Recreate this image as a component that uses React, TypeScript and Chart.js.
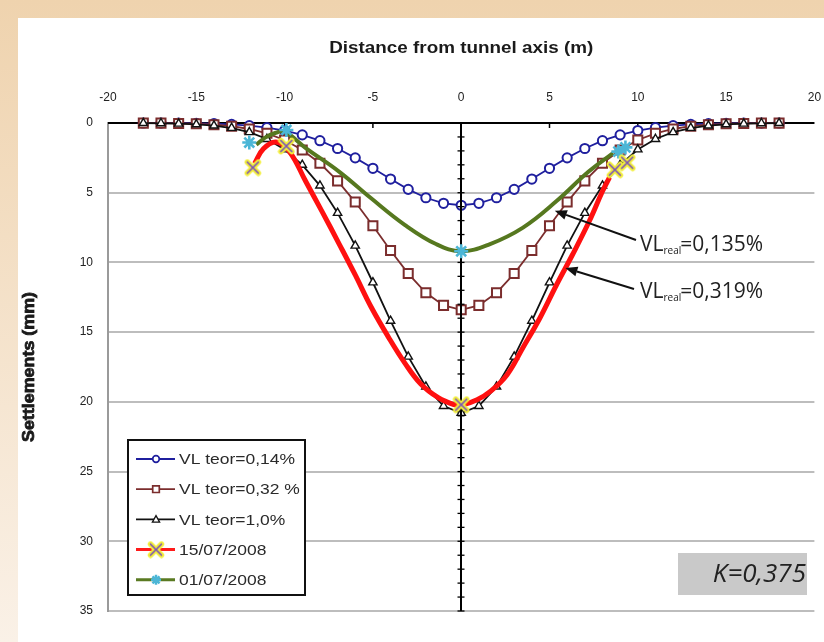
import React, { useEffect, useRef } from 'react';
import { Chart, registerables } from 'chart.js';

Chart.register(...registerables);

// ---------------- data ----------------
const distance = [-18, -17, -16, -15, -14, -13, -12, -11, -10, -9, -8, -7, -6, -5, -4, -3, -2, -1, 0, 1, 2, 3, 4, 5, 6, 7, 8, 9, 10, 11, 12, 13, 14, 15, 16, 17, 18];
const vlTeor014 = [0.0, 0.01, 0.01, 0.03, 0.05, 0.1, 0.19, 0.33, 0.54, 0.85, 1.27, 1.83, 2.5, 3.25, 4.02, 4.76, 5.36, 5.76, 5.9, 5.76, 5.36, 4.76, 4.02, 3.25, 2.5, 1.83, 1.27, 0.85, 0.54, 0.33, 0.19, 0.1, 0.05, 0.03, 0.01, 0.01, 0.0];
const vlTeor032 = [0.01, 0.01, 0.03, 0.06, 0.12, 0.23, 0.43, 0.74, 1.22, 1.93, 2.89, 4.15, 5.67, 7.37, 9.14, 10.8, 12.18, 13.08, 13.4, 13.08, 12.18, 10.8, 9.14, 7.37, 5.67, 4.15, 2.89, 1.93, 1.22, 0.74, 0.43, 0.23, 0.12, 0.06, 0.03, 0.01, 0.01];
const vlTeor10 = [0.01, 0.02, 0.05, 0.1, 0.19, 0.36, 0.66, 1.15, 1.9, 3.0, 4.49, 6.45, 8.8, 11.44, 14.19, 16.76, 18.91, 20.3, 20.8, 20.3, 18.91, 16.76, 14.19, 11.44, 8.8, 6.45, 4.49, 3.0, 1.9, 1.15, 0.66, 0.36, 0.19, 0.1, 0.05, 0.02, 0.01];

const curve150708X = [-11.7, -11.2, -10.5, -9.75, -8.8, -7.9, -6.9, -6.0, -5.1, -4.1, -3.2, -2.3, -1.3, -0.4, 0, 0.9, 1.65, 2.6, 3.5, 4.45, 5.4, 6.3, 7.25, 8.0, 8.4];
const curve150708Y = [2.9, 1.85, 1.36, 2.0, 4.2, 6.3, 8.7, 10.9, 13.2, 15.4, 17.2, 18.7, 19.7, 20.2, 20.25, 19.85, 19.25, 18.05, 16.1, 14.0, 11.6, 9.45, 7.05, 4.9, 3.9];
const meas150708X = [-11.8, -9.9, 0, 8.7, 9.4];
const meas150708Y = [3.2, 1.65, 20.2, 3.35, 2.85];

const curve010708X = [-11.6, -11.1, -10.5, -10.0, -8.8, -6.9, -5.1, -3.2, -1.4, 0, 1.6, 3.5, 5.4, 7.2, 8.6];
const curve010708Y = [1.55, 1.05, 0.7, 0.62, 1.8, 3.5, 5.4, 7.3, 8.7, 9.2, 8.7, 7.5, 5.6, 3.5, 2.15];
const meas010708X = [-12.0, -9.9, 0, 8.9, 9.3];
const meas010708Y = [1.4, 0.5, 9.2, 2.05, 1.75];

const xTickValues = [-20, -15, -10, -5, 0, 5, 10, 15, 20];
const xTickLabels = ['-20', '-15', '-10', '-5', '0', '5', '10', '15', '20'];
const yTickValues = [0, 5, 10, 15, 20, 25, 30, 35];
const yTickLabels = ['0', '5', '10', '15', '20', '25', '30', '35'];

const seriesLabels = ['VL teor=0,14%', 'VL teor=0,32 %', 'VL teor=1,0%', '15/07/2008', '01/07/2008'];
const xAxisTitle = 'Distance from tunnel axis (m)';
const yAxisTitle = 'Settlements (mm)';
const kLabel = 'K=0,375';
const vlRealValues = ['=0,135%', '=0,319%'];

// ---------------- helpers ----------------
const toXY = (xs: number[], ys: number[]) => xs.map((x, i) => ({ x, y: ys[i] }));

function makeXMarker(): HTMLCanvasElement {
  const c = document.createElement('canvas');
  c.width = 18;
  c.height = 18;
  const g = c.getContext('2d') as CanvasRenderingContext2D;
  const path = () => {
    g.beginPath();
    g.moveTo(3.5, 3.5);
    g.lineTo(14.5, 14.5);
    g.moveTo(14.5, 3.5);
    g.lineTo(3.5, 14.5);
  };
  g.lineCap = 'round';
  g.strokeStyle = '#f3ef3c';
  g.lineWidth = 5.5;
  path();
  g.stroke();
  g.strokeStyle = '#7b55b5';
  g.lineWidth = 1.7;
  path();
  g.stroke();
  return c;
}

function drawMarker(ctx: CanvasRenderingContext2D, kind: string, x: number, y: number, r: number, color: string, lw: number, img?: HTMLCanvasElement) {
  ctx.save();
  ctx.lineWidth = lw;
  ctx.strokeStyle = color;
  ctx.fillStyle = '#fff';
  ctx.beginPath();
  if (kind === 'circle') {
    ctx.arc(x, y, r, 0, Math.PI * 2);
    ctx.fill();
    ctx.stroke();
  } else if (kind === 'rect') {
    ctx.rect(x - r, y - r, 2 * r, 2 * r);
    ctx.fill();
    ctx.stroke();
  } else if (kind === 'triangle') {
    ctx.moveTo(x, y - r);
    ctx.lineTo(x + r * 0.95, y + r * 0.7);
    ctx.lineTo(x - r * 0.95, y + r * 0.7);
    ctx.closePath();
    ctx.fill();
    ctx.stroke();
  } else if (kind === 'star') {
    for (let k = 0; k < 4; k++) {
      const a = (k * Math.PI) / 4;
      ctx.moveTo(x - Math.cos(a) * r, y - Math.sin(a) * r);
      ctx.lineTo(x + Math.cos(a) * r, y + Math.sin(a) * r);
    }
    ctx.stroke();
  } else if (kind === 'image' && img) {
    ctx.drawImage(img, x - img.width / 2, y - img.height / 2);
  }
  ctx.restore();
}

function stretchText(ctx: CanvasRenderingContext2D, text: string, x: number, y: number, font: string, align: CanvasTextAlign, target?: number) {
  ctx.save();
  ctx.font = font;
  const w = ctx.measureText(text).width;
  const s = target ? target / w : 1;
  ctx.translate(x, y);
  ctx.scale(s, 1);
  ctx.textAlign = align;
  ctx.textBaseline = 'middle';
  ctx.fillText(text, 0, 0);
  ctx.restore();
}

function arrow(ctx: CanvasRenderingContext2D, x0: number, y0: number, x1: number, y1: number) {
  const ang = Math.atan2(y1 - y0, x1 - x0);
  const hl = 12;
  const hw = 5;
  const bx = x1 - Math.cos(ang) * hl;
  const by = y1 - Math.sin(ang) * hl;
  ctx.save();
  ctx.strokeStyle = '#111';
  ctx.fillStyle = '#111';
  ctx.lineWidth = 2;
  ctx.beginPath();
  ctx.moveTo(x0, y0);
  ctx.lineTo(bx, by);
  ctx.stroke();
  ctx.beginPath();
  ctx.moveTo(x1, y1);
  ctx.lineTo(bx + Math.sin(ang) * hw, by - Math.cos(ang) * hw);
  ctx.lineTo(bx - Math.sin(ang) * hw, by + Math.cos(ang) * hw);
  ctx.closePath();
  ctx.fill();
  ctx.restore();
}

export default function App() {
  const ref = useRef<HTMLCanvasElement | null>(null);

  useEffect(() => {
    if (!ref.current) return;
    const xImg = makeXMarker();

    const legendItems = [
      { label: seriesLabels[0], color: '#1f1f9e', lw: 1.8, kind: 'circle', r: 3.3, mlw: 1.7 },
      { label: seriesLabels[1], color: '#7b2d2d', lw: 1.8, kind: 'rect', r: 3.3, mlw: 1.7 },
      { label: seriesLabels[2], color: '#111111', lw: 1.8, kind: 'triangle', r: 3.8, mlw: 1.3 },
      { label: seriesLabels[3], color: '#ff1a1a', lw: 3, kind: 'image', r: 5, mlw: 1 },
      { label: seriesLabels[4], color: '#5a7a22', lw: 3, kind: 'star', r: 5, mlw: 2.5 },
    ];

    const deco = {
      id: 'deco',
      beforeDraw(chart: any) {
        const { ctx, width, height } = chart;
        ctx.save();
        const g = ctx.createLinearGradient(0, 0, 0, height);
        g.addColorStop(0, '#efd3ae');
        g.addColorStop(1, '#faf1e7');
        ctx.fillStyle = g;
        ctx.fillRect(0, 0, width, height);
        ctx.fillStyle = '#ffffff';
        ctx.fillRect(18, 18, width - 18, height - 18);
        ctx.restore();
      },
      beforeDatasetsDraw(chart: any) {
        const { ctx, chartArea: ca, scales } = chart;
        const xs = scales.x;
        ctx.save();
        ctx.strokeStyle = '#000';
        ctx.lineWidth = 2;
        ctx.beginPath();
        ctx.moveTo(ca.left, ca.top);
        ctx.lineTo(ca.right, ca.top);
        ctx.stroke();
        ctx.lineWidth = 1.5;
        for (const v of xTickValues) {
          if (Math.abs(v) === 20) continue;
          const px = xs.getPixelForValue(v);
          ctx.beginPath();
          ctx.moveTo(px, ca.top);
          ctx.lineTo(px, ca.top + 5);
          ctx.stroke();
        }
        ctx.restore();
      },
      afterDatasetDraw(chart: any, args: any) {
        if (args.index !== 2) return;
        const { ctx, chartArea: ca, scales } = chart;
        const px = Math.round(scales.x.getPixelForValue(0));
        ctx.save();
        ctx.strokeStyle = '#000';
        ctx.lineWidth = 2;
        ctx.beginPath();
        ctx.moveTo(px, ca.top);
        ctx.lineTo(px, ca.bottom);
        ctx.stroke();
        ctx.lineWidth = 1.3;
        for (let v = 1; v <= 35; v++) {
          const py = scales.y.getPixelForValue(v);
          ctx.beginPath();
          ctx.moveTo(px - 3.5, py);
          ctx.lineTo(px + 3.5, py);
          ctx.stroke();
        }
        ctx.restore();
      },
      afterDraw(chart: any) {
        const { ctx, chartArea: ca, scales } = chart;
        const xs = scales.x;
        const ys = scales.y;
        ctx.save();
        ctx.fillStyle = '#1a1a1a';

        // axis titles
        stretchText(ctx, xAxisTitle, (ca.left + ca.right) / 2, 48, 'bold 17px "Liberation Sans", Arial, sans-serif', 'center', 264);
        ctx.save();
        ctx.translate(29, (ca.top + ca.bottom) / 2);
        ctx.rotate(-Math.PI / 2);
        ctx.strokeStyle = '#1a1a1a';
        ctx.lineWidth = 0.8;
        ctx.font = 'bold 17px "Liberation Sans", Arial, sans-serif';
        const wT = ctx.measureText(yAxisTitle).width;
        ctx.scale(150 / wT, 1);
        ctx.textAlign = 'center';
        ctx.textBaseline = 'middle';
        ctx.fillText(yAxisTitle, 0, 0);
        ctx.strokeText(yAxisTitle, 0, 0);
        ctx.restore();

        // tick labels
        ctx.fillStyle = '#222';
        xTickValues.forEach((v, i) => {
          stretchText(ctx, xTickLabels[i], xs.getPixelForValue(v), 98, '12px "Liberation Sans", Arial, sans-serif', 'center');
        });
        yTickValues.forEach((v, i) => {
          stretchText(ctx, yTickLabels[i], 93, ys.getPixelForValue(v), '12px "Liberation Sans", Arial, sans-serif', 'right');
        });

        // legend
        const lx = 128, ly = 440, lw = 177, lh = 155;
        ctx.fillStyle = '#fff';
        ctx.fillRect(lx, ly, lw, lh);
        ctx.strokeStyle = '#111';
        ctx.lineWidth = 2;
        ctx.strokeRect(lx, ly, lw, lh);
        ctx.font = '15px "Liberation Sans", Arial, sans-serif';
        const legScale = 116 / ctx.measureText(seriesLabels[0]).width;
        legendItems.forEach((it, i) => {
          const y = ly + 19 + i * 30.2;
          ctx.save();
          ctx.strokeStyle = it.color;
          ctx.lineWidth = it.lw;
          ctx.beginPath();
          ctx.moveTo(lx + 8, y);
          ctx.lineTo(lx + 47, y);
          ctx.stroke();
          ctx.restore();
          drawMarker(ctx, it.kind, lx + 28, y, it.r, it.kind === 'star' ? '#4cb6d6' : it.color, it.mlw, xImg);
          ctx.save();
          ctx.fillStyle = '#2a2a2a';
          ctx.font = '15px "Liberation Sans", Arial, sans-serif';
          ctx.translate(lx + 51, y + 1);
          ctx.scale(legScale, 1);
          ctx.textBaseline = 'middle';
          ctx.fillText(it.label, 0, 0);
          ctx.restore();
        });

        // annotation arrows
        arrow(ctx, 636, 240, xs.getPixelForValue(5.3), ys.getPixelForValue(6.3));
        arrow(ctx, 634, 289, xs.getPixelForValue(5.9), ys.getPixelForValue(10.4));
        const annY = [243, 290];
        vlRealValues.forEach((val, i) => {
          ctx.save();
          ctx.fillStyle = '#222';
          ctx.textBaseline = 'alphabetic';
          const base = annY[i] + 8;
          let x = 640;
          ctx.font = '21px "Open Sans", "Liberation Sans", sans-serif';
          ctx.fillText('VL', x, base);
          x += ctx.measureText('VL').width;
          ctx.font = '10px "Open Sans", "Liberation Sans", sans-serif';
          ctx.fillText('real', x, base + 3);
          x += ctx.measureText('real').width - 1;
          ctx.font = '21px "Open Sans", "Liberation Sans", sans-serif';
          ctx.fillText(val, x, base);
          ctx.restore();
        });

        // K box
        ctx.fillStyle = '#c9c9c9';
        ctx.fillRect(678, 553, 129, 42);
        ctx.fillStyle = '#222';
        ctx.font = 'italic 26px "Open Sans", "Liberation Sans", sans-serif';
        ctx.textAlign = 'right';
        ctx.textBaseline = 'middle';
        ctx.fillText(kLabel, 806, 575);
        ctx.restore();
      },
    };

    const chart = new Chart(ref.current, {
      type: 'line',
      data: {
        datasets: [
          {
            label: seriesLabels[0],
            data: toXY(distance, vlTeor014),
            borderColor: '#1f1f9e',
            borderWidth: 1.8,
            pointStyle: 'circle',
            pointRadius: 4.6,
            pointBorderWidth: 2,
            pointBorderColor: '#1f1f9e',
            pointBackgroundColor: '#ffffff',
            tension: 0,
            order: 6,
            clip: false,
          },
          {
            label: seriesLabels[1],
            data: toXY(distance, vlTeor032),
            borderColor: '#7b2d2d',
            borderWidth: 1.8,
            pointStyle: 'rect',
            pointRadius: 6.4,
            pointBorderWidth: 2,
            pointBorderColor: '#7b2d2d',
            pointBackgroundColor: '#ffffff',
            tension: 0,
            order: 5,
            clip: false,
          },
          {
            label: seriesLabels[2],
            data: toXY(distance, vlTeor10),
            borderColor: '#111111',
            borderWidth: 1.8,
            pointStyle: 'triangle',
            pointRadius: 4.8,
            pointBorderWidth: 1.4,
            pointBorderColor: '#111111',
            pointBackgroundColor: '#ffffff',
            tension: 0,
            order: 4,
            clip: false,
          },
          {
            label: seriesLabels[3],
            data: toXY(curve150708X, curve150708Y),
            borderColor: '#ff1010',
            borderWidth: 5,
            pointRadius: 0,
            tension: 0.4,
            order: 2,
            clip: false,
          },
          {
            label: seriesLabels[4],
            data: toXY(curve010708X, curve010708Y),
            borderColor: '#56781f',
            borderWidth: 4,
            pointRadius: 0,
            tension: 0.4,
            order: 3,
            clip: false,
          },
          {
            label: seriesLabels[3] + ' (measured)',
            data: toXY(meas150708X, meas150708Y),
            showLine: false,
            pointStyle: xImg as any,
            pointRadius: 7,
            order: 0,
            clip: false,
          },
          {
            label: seriesLabels[4] + ' (measured)',
            data: toXY(meas010708X, meas010708Y),
            showLine: false,
            pointStyle: 'star',
            pointRadius: 7,
            pointBorderWidth: 2.6,
            pointBorderColor: '#4cb6d6',
            pointBackgroundColor: '#4cb6d6',
            order: 1,
            clip: false,
          },
        ] as any,
      },
      options: {
        responsive: false,
        animation: false,
        events: [],
        layout: { padding: { left: 108, top: 123, right: 4, bottom: 31 } },
        plugins: {
          legend: { display: false },
          tooltip: { enabled: false },
          title: { display: false },
        },
        scales: {
          x: {
            type: 'linear',
            position: 'top',
            min: -20,
            max: 20,
            ticks: { display: false, stepSize: 5 },
            grid: { display: false, drawTicks: false },
            border: { display: false },
          },
          y: {
            type: 'linear',
            reverse: true,
            min: 0,
            max: 35,
            ticks: { display: false, stepSize: 5 },
            grid: { color: '#bdbdbd', lineWidth: 2, drawTicks: false },
            border: { display: true, color: '#9a9a9a', width: 2 },
          },
        },
      } as any,
      plugins: [deco],
    });

    return () => chart.destroy();
  }, []);

  return (
    <div style={{ position: 'fixed', left: 0, top: 0, width: 824, height: 642 }}>
      <canvas ref={ref} width={824} height={642} style={{ display: 'block' }} />
    </div>
  );
}
